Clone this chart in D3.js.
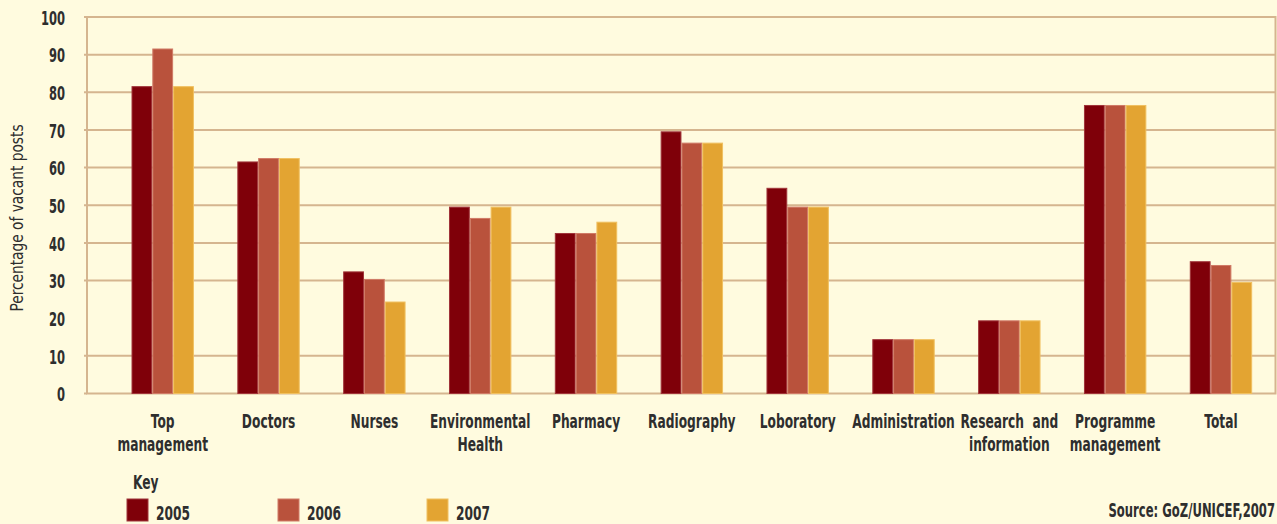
<!DOCTYPE html>
<html>
<head>
<meta charset="utf-8">
<script src="https://cdn.jsdelivr.net/npm/d3@7"></script>
<style>
html,body{margin:0;padding:0;background:#fffbdf;}
svg{display:block;}
text{font-family:"DejaVu Sans Condensed","Liberation Sans Narrow","DejaVu Sans",sans-serif;font-stretch:condensed;fill:#2e2e2e;}
</style>
</head>
<body>
<svg id="chart" width="1277" height="524"></svg>
<script>
const categories = [
  ["Top", "management"], ["Doctors"], ["Nurses"], ["Environmental", "Health"],
  ["Pharmacy"], ["Radiography"], ["Loboratory"], ["Administration"],
  ["Research  and", "information"], ["Programme", "management"], ["Total"]
];
const years = ["2005", "2006", "2007"];
const values2005 = [81.5, 61.5, 32.3, 49.5, 42.5, 69.5, 54.5, 14.3, 19.3, 76.5, 35];
const values2006 = [91.5, 62.4, 30.3, 46.5, 42.5, 66.5, 49.5, 14.3, 19.3, 76.5, 34];
const values2007 = [81.5, 62.4, 24.3, 49.5, 45.5, 66.5, 49.5, 14.3, 19.3, 76.5, 29.5];
const yTicks = [0, 10, 20, 30, 40, 50, 60, 70, 80, 90, 100];
const gridValues = [10, 30, 40, 50, 60, 70, 80, 90];
const colors = ["#7f0009", "#b9523c", "#e3a432"];
const strokes = ["#a0343a", "#d07a66", "#f0c060"];

const series = [values2005, values2006, values2007];
const svg = d3.select("#chart");
const frame = {left: 87, right: 1275.5, top: 17, bottom: 393.5};
const gridColor = "#d5b58f";
const SX = 0.68;

const y = d3.scaleLinear().domain([0, 100]).range([frame.bottom, frame.top]);
const catKeys = categories.map(c => c.join(" "));
const x0 = d3.scaleBand().domain(catKeys).range([109.8, 1273.9]).padding(0);
const groupW = 62.4;
const x1 = d3.scaleBand().domain(years).range([0, groupW]).padding(0);

function ctext(parent, x, yy, str, size, anchor, weight, sx) {
  return parent.append("text")
    .attr("transform", `translate(${x},${yy}) scale(${sx || SX},1)`)
    .attr("text-anchor", anchor || "start")
    .style("font-size", size + "px")
    .style("font-weight", weight || "bold")
    .text(str);
}

// gridlines + ticks
svg.append("g").selectAll("line").data(gridValues).join("line")
  .attr("x1", frame.left - 3).attr("x2", frame.right)
  .attr("y1", d => y(d)).attr("y2", d => y(d))
  .attr("stroke", gridColor).attr("stroke-width", 2);

// frame
svg.append("rect")
  .attr("x", frame.left).attr("y", frame.top)
  .attr("width", frame.right - frame.left).attr("height", frame.bottom - frame.top)
  .attr("fill", "none").attr("stroke", gridColor).attr("stroke-width", 2);
svg.append("line").attr("x1", frame.left - 3).attr("x2", frame.left)
  .attr("y1", y(0)).attr("y2", y(0)).attr("stroke", gridColor).attr("stroke-width", 2);
svg.append("line").attr("x1", frame.left - 3).attr("x2", frame.left)
  .attr("y1", y(100)).attr("y2", y(100)).attr("stroke", gridColor).attr("stroke-width", 2);

// y axis labels
const yAxis = d3.axisLeft(y).tickValues(yTicks).tickSize(0).tickPadding(0);
const gy = svg.append("g").attr("transform", "translate(65,0)").call(yAxis);
gy.select(".domain").remove();
gy.selectAll("text")
  .attr("x", 0).attr("dy", "0.36em")
  .attr("transform", "scale(0.64,1)")
  .style("font-size", "20px").style("font-weight", "bold")
  .attr("fill", "#2e2e2e").attr("font-family", null);

svg.append("text")
  .attr("transform", "translate(23,218) rotate(-90) scale(0.85,1)")
  .attr("text-anchor", "middle").style("font-size", "18px")
  .text("Percentage of vacant posts");

// bars
const groups = svg.append("g").selectAll("g").data(catKeys).join("g")
  .attr("transform", d => `translate(${x0(d) + (x0.bandwidth() - groupW) / 2},0)`);
groups.selectAll("rect").data((d, i) => years.map((yr, j) => ({yr, j, v: series[j][i]})))
  .join("rect")
  .attr("x", d => x1(d.yr) + 0.5)
  .attr("width", x1.bandwidth() - 1)
  .attr("y", d => y(d.v))
  .attr("height", d => y(0) - y(d.v))
  .attr("fill", d => colors[d.j])
  .attr("stroke", d => strokes[d.j]).attr("stroke-width", 1);

// category labels
const labels = svg.append("g").selectAll("text").data(categories).join("text")
  .attr("transform", (d, i) => `translate(${x0(catKeys[i]) + x0.bandwidth() / 2},428) scale(${SX},1)`)
  .attr("text-anchor", "middle")
  .style("font-size", "20px").style("font-weight", "bold");
labels.selectAll("tspan").data(d => d).join("tspan")
  .attr("x", 0)
  .attr("dy", (d, i) => i === 0 ? 0 : 23)
  .style("white-space", "pre")
  .text(d => d);

// legend
ctext(svg, 133, 489, "Key", 20);
const legendX = [127, 278, 427];
const lg = svg.append("g").selectAll("g").data(years).join("g")
  .attr("transform", (d, i) => `translate(${legendX[i]},499)`);
lg.append("rect").attr("width", 21).attr("height", 22).attr("fill", (d, i) => colors[i])
  .attr("stroke", (d, i) => strokes[i]).attr("stroke-width", 1);
lg.each(function(d) { ctext(d3.select(this), 29, 21, d, 20); });

ctext(svg, 1275, 517, "Source: GoZ/UNICEF,2007", 19, "end");
</script>
</body>
</html>
